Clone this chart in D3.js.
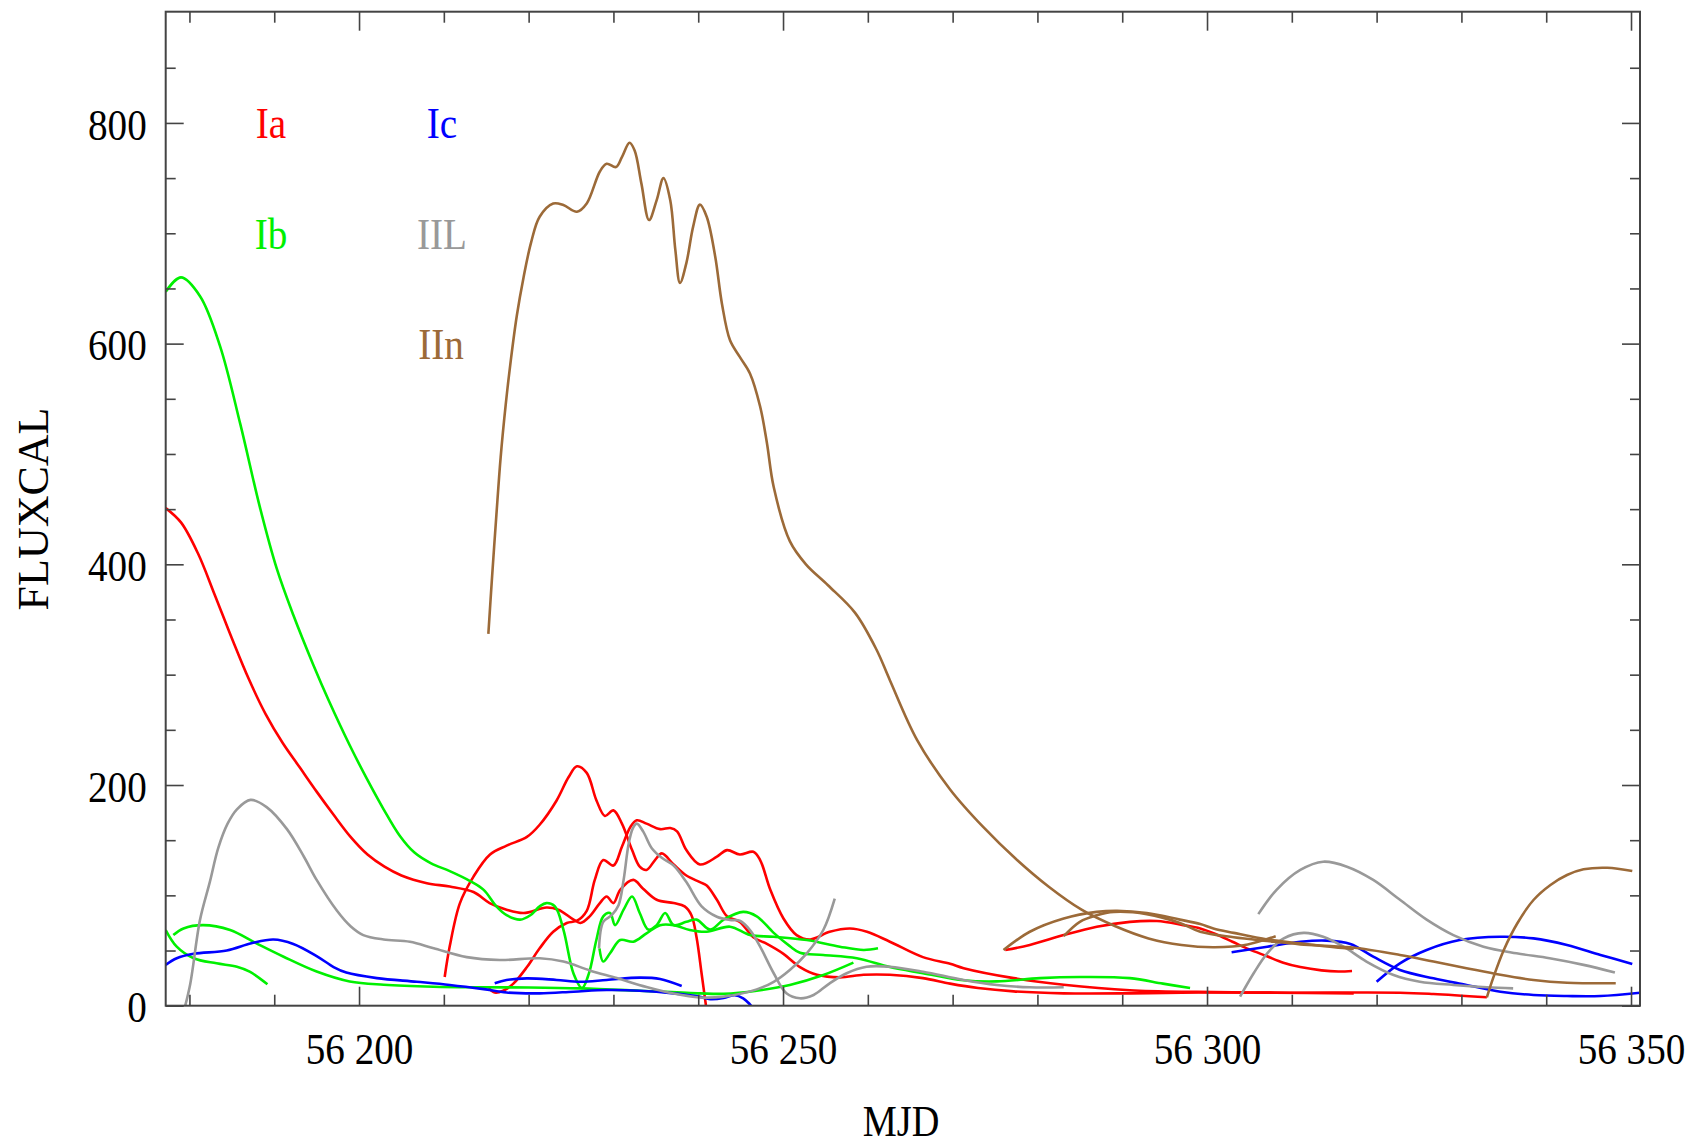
<!DOCTYPE html>
<html>
<head>
<meta charset="utf-8">
<script src="https://cdn.jsdelivr.net/npm/d3@7"></script>
<style>
  html, body { margin: 0; padding: 0; background: #fff; }
  svg { display: block; }
  text { font-family: "Liberation Serif", "Times New Roman", serif; }
</style>
</head>
<body>
<svg id="chart" width="1697" height="1147"></svg>
<script>
// ---------------- DATA (MJD, FLUXCAL) ----------------
const IA_1 = [[56177.2,451],[56179.0,438],[56181.0,410],[56183.0,372],[56185.0,333],[56187.0,296],[56189.0,264],[56191.0,238],[56193.0,216],[56195.0,194],[56197.0,173],[56199.0,153],[56201.0,137],[56203.0,126],[56205.0,118],[56208.0,111],[56210.7,108],[56213.5,103],[56215.4,93],[56217.4,87],[56219.4,84],[56222.1,89],[56223.5,87],[56225.3,78],[56226.1,75],[56227.2,81],[56228.4,93],[56229.2,99],[56230.0,93],[56230.8,105],[56232.35,114],[56233.5,106],[56235.1,96],[56237.1,93],[56238.4,90],[56239.2,82],[56239.8,62],[56240.4,29],[56241.0,-5]];
const IA_2 = [[56210.1,26],[56210.7,54],[56211.9,93],[56213.5,117],[56215.45,137],[56217.4,145],[56219.8,153],[56221.3,164],[56223.3,186],[56224.7,207],[56225.7,217],[56226.85,211],[56228.0,186],[56229.0,172],[56230.0,177],[56231.0,165],[56232.2,141],[56233.1,126],[56233.9,123],[56234.9,132],[56235.7,138],[56237.1,128],[56238.6,118],[56240.2,112],[56241.0,109],[56242.2,96],[56243.4,81],[56244.9,76],[56246.5,62],[56248.1,56],[56250.05,47],[56252.0,35],[56254.0,28],[56256.7,25.7],[56259.5,28],[56262.6,28],[56266.5,25],[56269.7,20],[56273.0,16],[56277.2,13],[56283.1,11.2],[56290.9,11.2],[56299.0,12],[56310.0,11.8],[56322.75,11.8],[56326.7,10.6],[56333.0,7.6]];
const IA_3 = [[56215.3,16],[56216.0,12],[56217.0,13.6],[56218.2,20],[56219.8,35],[56221.3,52],[56222.9,67],[56224.5,75],[56225.7,77],[56226.85,86],[56227.8,114],[56228.8,132],[56230.0,127],[56231.0,144],[56232.0,162],[56232.75,168],[56233.9,165],[56235.5,160],[56236.7,161],[56237.5,158],[56238.6,141],[56240.2,128],[56242.2,135],[56243.4,141],[56244.9,137],[56246.5,139.5],[56247.3,132],[56248.5,105],[56250.05,79],[56251.6,64],[56253.2,60],[56255.5,67],[56257.9,70],[56259.9,67],[56262.6,58],[56266.5,44],[56269.7,38],[56271.3,34],[56277.2,25],[56283.1,19],[56290.9,14],[56298.8,12.5],[56308.0,11.8],[56317.3,11.2]];
const IA_4 = [[56276.2,50.5],[56279.1,55],[56283.1,64],[56287.0,71.6],[56290.9,76],[56294.1,76.7],[56297.2,73],[56299.2,70],[56301.0,65],[56303.0,58],[56305.0,51],[56307.0,45],[56309.0,39],[56311.0,35],[56313.5,32],[56315.5,31],[56317.1,31.5]];

const IB_1 = [[56177.2,647],[56179.0,660],[56181.25,643],[56183.6,598],[56186.0,527],[56188.3,452],[56190.3,396],[56192.25,354],[56194.6,309],[56196.4,277],[56198.9,236],[56200.9,206],[56202.9,178],[56204.8,154],[56206.5,139],[56208.5,129],[56210.7,122],[56213.1,113],[56214.7,105],[56216.2,90],[56217.4,82],[56219.0,78],[56220.2,82],[56221.3,90],[56222.1,93],[56223.1,90],[56224.1,69],[56225.3,29],[56226.3,16],[56227.1,29],[56228.0,60],[56228.8,81],[56229.6,84],[56230.2,73],[56231.2,87],[56232.2,99],[56233.1,84],[56234.1,69],[56235.1,73],[56236.1,84],[56237.1,73],[56238.6,76],[56239.8,78],[56241.4,69],[56243.0,78],[56245.3,85],[56246.9,81],[56248.9,66],[56250.8,54],[56252.0,48],[56254.75,46],[56258.7,43],[56262.6,35],[56266.5,29.5],[56271.3,23],[56275.2,22],[56280.3,25],[56285.0,26],[56290.9,25],[56294.8,20],[56298.0,16]];
const IB_2 = [[56228.35,52],[56228.8,40],[56229.6,47.5],[56230.8,59.5],[56232.35,58],[56233.9,65.6],[56235.5,73],[56237.1,73],[56239.0,68.6],[56241.0,67],[56243.75,71.6],[56246.1,64],[56248.9,62.5],[56252.8,59.5],[56256.7,53.5],[56259.5,50.5],[56261.2,52]];
const IB_3 = [[56177.2,68.6],[56178.5,53.5],[56180.5,43],[56183.2,38.4],[56185.6,35.3],[56187.1,30.8],[56189.2,19.4]];
const IB_4 = [[56178.1,64],[56179.3,70],[56181.6,73],[56184.8,68.6],[56187.9,56.5],[56191.1,44.4],[56195.0,31],[56198.9,22],[56202.9,19],[56208.8,17.2],[56214.7,16.7],[56220.0,16.5],[56226.1,15.7],[56233.1,13.6],[56240.2,11.2],[56243.0,10.8],[56246.9,13.6],[56250.8,18.8],[56254.75,27.8],[56258.3,39]];

const IC_1 = [[56177.2,37],[56178.5,43],[56180.5,47],[56184.4,50],[56187.3,56.5],[56189.9,60],[56192.25,56],[56195.0,45],[56197.0,35],[56198.5,30],[56202.1,25],[56206.8,21.7],[56210.7,18.8],[56214.7,15],[56217.4,12],[56221.3,11.2],[56225.3,12.7],[56229.2,14.2],[56233.1,13.6],[56237.1,11.2],[56240.2,8],[56241.4,6],[56243.0,7],[56244.3,9.5],[56245.3,6.7],[56246.0,2],[56246.6,-4]];
const IC_2 = [[56216.0,20.3],[56217.4,23.3],[56219.8,24.8],[56223.3,23.3],[56226.1,21.7],[56229.2,23.3],[56233.1,25.4],[56235.5,24.2],[56238.05,17.8]];
const IC_3 = [[56302.9,48.5],[56307.1,53.5],[56311.0,58],[56314.1,59],[56316.9,56],[56319.6,44.4],[56322.75,32.4],[56326.7,24.8],[56330.6,18.8],[56334.6,12.7],[56338.5,9.7],[56342.45,8.8],[56346.4,8.8],[56351.1,11.8]];
const IC_4 = [[56320.0,21.7],[56322.75,38.4],[56325.9,50.5],[56329.8,59.5],[56334.6,62.5],[56338.5,61],[56342.45,55],[56346.4,46],[56350.15,37.8]];

const IIL_1 = [[56179.4,-3],[56180.1,20],[56181.25,78],[56182.4,112],[56183.4,143],[56184.5,165],[56185.6,178],[56187.2,186.5],[56189.1,180],[56191.5,160],[56193.5,135],[56195.0,114],[56197.4,86],[56199.0,72],[56200.5,64],[56202.9,60],[56206.0,58],[56208.8,52],[56212.7,44],[56216.6,41.4],[56221.3,43],[56224.1,40],[56227.2,32],[56230.4,25],[56233.9,17],[56237.1,11],[56240.2,7.5],[56243.0,8.2],[56246.9,14.8],[56248.9,21.7],[56250.8,32.4],[56252.8,47.5],[56254.75,68.6],[56256.1,97]];
const IIL_2 = [[56228.3,52],[56228.8,76],[56229.8,82],[56230.6,91],[56231.2,114],[56231.8,147],[56232.3,161],[56232.75,165],[56233.5,158],[56234.5,143],[56235.7,134],[56237.1,127],[56238.6,112],[56240.4,90],[56242.2,80.6],[56243.75,77.7],[56244.9,77],[56246.1,68.6],[56247.3,53.5],[56248.9,29.4],[56250.4,11.2],[56252.0,6.7],[56253.6,9.7],[56255.5,20.3],[56257.5,29.4],[56259.85,35.3],[56262.6,35.3],[56266.5,30.8],[56271.3,23.3],[56275.2,18.8],[56279.1,16.7],[56283.1,16.7]];
const IIL_3 = [[56306.05,83],[56308.2,105],[56311.0,123],[56313.7,130.5],[56316.5,126],[56319.6,114],[56322.75,96],[56325.9,78],[56329.05,64],[56332.6,53.5],[56336.5,47.5],[56340.4,43],[56344.4,37],[56348.1,30]];
const IIL_4 = [[56303.9,8.2],[56305.5,29.4],[56307.1,47.5],[56309.05,61],[56311.4,66],[56313.7,62.5],[56316.1,53.5],[56318.8,40],[56322.0,27.8],[56325.1,21.7],[56329.05,18.8],[56333.0,16.7],[56336.1,15.7]];

const IIN_1 = [[56215.25,337],[56215.7,390],[56216.2,445],[56216.7,497],[56217.3,545],[56217.9,585],[56218.6,625],[56219.4,660],[56220.3,692],[56221.3,715],[56222.9,727],[56224.1,725.6],[56225.7,719.5],[56226.85,727],[56228.4,756],[56229.2,763],[56230.3,760],[56231.0,769],[56231.9,782],[56232.5,775],[56233.3,745],[56234.2,712],[56235.1,730],[56235.9,750],[56236.7,730],[56237.3,685],[56237.85,655],[56238.6,673],[56239.4,706],[56240.2,726],[56241.0,715],[56242.0,679],[56242.8,636],[56243.75,603],[56244.9,588],[56246.1,573],[56247.3,543],[56248.1,510],[56248.9,470],[56250.8,421],[56252.7,400],[56255.3,381],[56258.5,356],[56261.0,323],[56262.6,295],[56265.8,241],[56269.7,196],[56273.6,162],[56277.6,132],[56281.3,108],[56285.2,87],[56289.2,72],[56293.1,61],[56297.0,55],[56300.9,53],[56304.8,55.5],[56308.1,63]];
const IIN_2 = [[56276.0,50.5],[56279.1,67],[56283.1,79],[56287.0,85],[56289.4,86],[56292.9,84],[56296.8,78],[56299.2,74],[56300.75,70],[56303.15,66],[56307.1,60],[56311.0,56.5],[56315.0,53],[56317.3,51.4]];
const IIN_3 = [[56283.1,63],[56285.0,76],[56287.0,82],[56289.0,85],[56292.9,83],[56296.8,75],[56299.2,67],[56303.15,62],[56307.1,58.6],[56311.0,55.6],[56316.9,52.9],[56322.75,46],[56326.7,40],[56330.6,34],[56334.6,28],[56338.5,23.3],[56342.45,20.8],[56348.2,20.3]];
const IIN_4 = [[56333.0,7.6],[56333.8,26.3],[56335.0,50.5],[56336.6,74.7],[56338.5,95.8],[56340.5,109.4],[56342.45,118.4],[56344.4,123.6],[56347.2,125],[56350.15,122]];

const TYPES = ["Ia", "Ib", "Ic", "IIL", "IIn"];
const TYPE_COLORS = ["#ff0000", "#00f000", "#0000ff", "#999999", "#9c6a38"];
const TYPE_CURVES = [
  [IA_1, IA_2, IA_3, IA_4],
  [IB_1, IB_2, IB_3, IB_4],
  [IC_1, IC_2, IC_3, IC_4],
  [IIL_1, IIL_2, IIL_3, IIL_4],
  [IIN_1, IIN_2, IIN_3, IIN_4]
];
const X_DOMAIN = [56177.2, 56351.06];
const Y_DOMAIN = [0, 900.8];
const X_MAJOR = [56200, 56250, 56300, 56350];
const Y_MAJOR = [0, 200, 400, 600, 800];

// ---------------- LAYOUT ----------------
const L = 165.7, R = 1640, T = 11.7, B = 1005.7;
const SX = 0.87; // horizontal text squeeze
const svg = d3.select("#chart");
const x = d3.scaleLinear().domain(X_DOMAIN).range([L, R]);
const y = d3.scaleLinear().domain(Y_DOMAIN).range([B, T]);

const xMinor = d3.range(56180, 56351, 10).filter(v => !X_MAJOR.includes(v));
const yMinor = d3.range(0, 851, 50).filter(v => !Y_MAJOR.includes(v));
const fmt = d3.formatLocale({decimal: ".", thousands: " ", grouping: [3], currency: ["", ""]}).format(",d");

const tickColor = "#444";
function styleAxis(g) {
  g.select(".domain").remove();
  g.selectAll(".tick line").attr("stroke", tickColor).attr("stroke-width", 1.6);
}

// clip
svg.append("defs").append("clipPath").attr("id", "plotclip")
  .append("rect").attr("x", L).attr("y", T).attr("width", R - L).attr("height", B - T);

// curves
const line = d3.line().x(d => x(d[0])).y(d => y(d[1])).curve(d3.curveCatmullRom.alpha(0.5));
const plot = svg.append("g").attr("clip-path", "url(#plotclip)");
TYPE_CURVES.forEach((curves, i) => {
  curves.forEach(c => {
    plot.append("path").attr("d", line(c)).attr("fill", "none")
      .attr("stroke", TYPE_COLORS[i]).attr("stroke-width", 2.6)
      .attr("stroke-linejoin", "round").attr("stroke-linecap", "butt");
  });
});

// axes: bottom (major labeled + minor)
const gBottom = svg.append("g").attr("transform", `translate(0,${B})`)
  .call(d3.axisBottom(x).tickValues(X_MAJOR).tickSizeInner(-19).tickSizeOuter(0).tickPadding(26).tickFormat(fmt));
styleAxis(gBottom);
gBottom.selectAll(".tick text").attr("fill", "#000").attr("font-size", 45)
  .attr("font-family", '"Liberation Serif", serif').attr("transform", `scale(${SX},1)`);
svg.append("g").attr("transform", `translate(0,${B})`)
  .call(d3.axisBottom(x).tickValues(xMinor).tickSizeInner(-11).tickSizeOuter(0).tickFormat(""))
  .call(styleAxis);
// top
svg.append("g").attr("transform", `translate(0,${T})`)
  .call(d3.axisTop(x).tickValues(X_MAJOR).tickSizeInner(-19).tickSizeOuter(0).tickFormat(""))
  .call(styleAxis);
svg.append("g").attr("transform", `translate(0,${T})`)
  .call(d3.axisTop(x).tickValues(xMinor).tickSizeInner(-11).tickSizeOuter(0).tickFormat(""))
  .call(styleAxis);
// left
const gLeft = svg.append("g").attr("transform", `translate(${L},0)`)
  .call(d3.axisLeft(y).tickValues(Y_MAJOR).tickSizeInner(-18).tickSizeOuter(0).tickPadding(19 / SX).tickFormat(d3.format("d")));
styleAxis(gLeft);
gLeft.selectAll(".tick text").attr("fill", "#000").attr("font-size", 45).attr("dy", "0.36em")
  .attr("font-family", '"Liberation Serif", serif').attr("transform", `scale(${SX},1)`);
svg.append("g").attr("transform", `translate(${L},0)`)
  .call(d3.axisLeft(y).tickValues(yMinor).tickSizeInner(-10).tickSizeOuter(0).tickFormat(""))
  .call(styleAxis);
// right
svg.append("g").attr("transform", `translate(${R},0)`)
  .call(d3.axisRight(y).tickValues(Y_MAJOR).tickSizeInner(-18).tickSizeOuter(0).tickFormat(""))
  .call(styleAxis);
svg.append("g").attr("transform", `translate(${R},0)`)
  .call(d3.axisRight(y).tickValues(yMinor).tickSizeInner(-10).tickSizeOuter(0).tickFormat(""))
  .call(styleAxis);

// frame
svg.append("rect").attr("x", L).attr("y", T).attr("width", R - L).attr("height", B - T)
  .attr("fill", "none").attr("stroke", tickColor).attr("stroke-width", 2);

// axis titles
svg.append("text").attr("transform", `translate(901,1136) scale(${SX},1)`)
  .attr("text-anchor", "middle").attr("font-size", 44).attr("fill", "#000").text("MJD");
svg.append("text").attr("transform", "translate(48,509) rotate(-90)")
  .attr("text-anchor", "middle").attr("font-size", 44).attr("fill", "#000").text("FLUXCAL");

// legend labels
const LEG_POS = [[271, 138], [271, 249], [442, 138], [442, 249], [441, 359]];
TYPES.forEach((t, i) => {
  svg.append("text").attr("transform", `translate(${LEG_POS[i][0]},${LEG_POS[i][1]}) scale(${SX},1)`)
    .attr("text-anchor", "middle").attr("font-size", 45).attr("fill", TYPE_COLORS[i]).text(t);
});
</script>
</body>
</html>
